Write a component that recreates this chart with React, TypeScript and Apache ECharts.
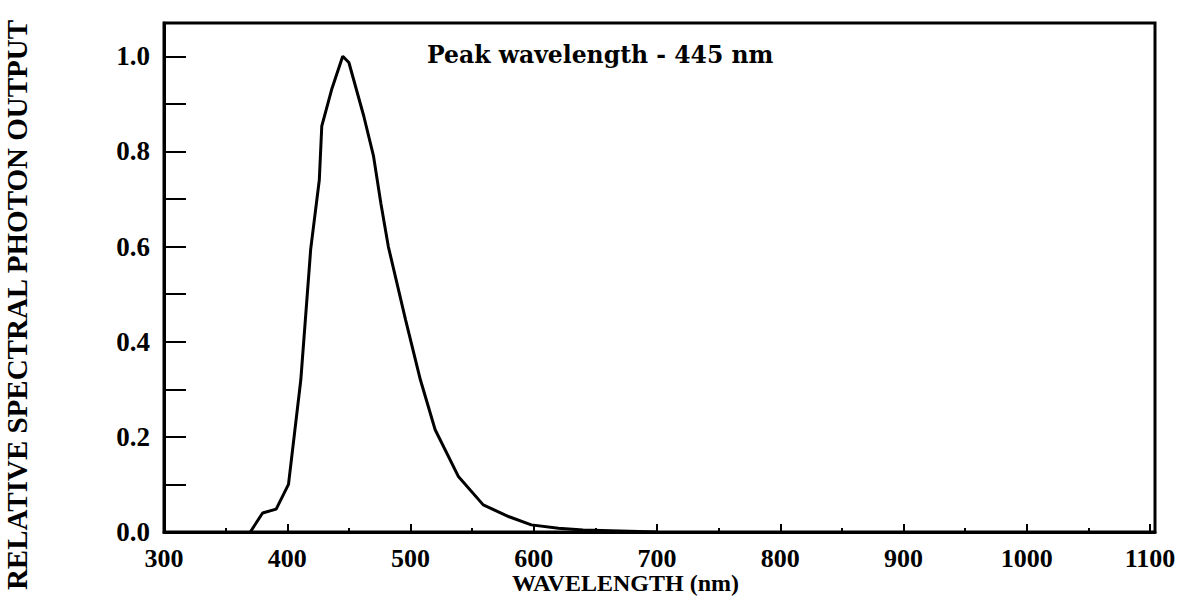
import React, { useEffect, useRef } from "react";
import * as echarts from "echarts";

const wavelengths = [370, 380, 391, 401, 406, 411, 419, 426, 428, 436, 445, 450, 462, 470, 476, 482, 496, 508, 520, 539, 559, 580, 598, 620, 640, 700];
const output = [0, 0.04, 0.048, 0.1, 0.21, 0.32, 0.594, 0.74, 0.853, 0.93, 1.0, 0.987, 0.875, 0.79, 0.69, 0.6, 0.446, 0.32, 0.215, 0.116, 0.057, 0.032, 0.015, 0.008, 0.004, 0];
const xTickLabels = ["300", "400", "500", "600", "700", "800", "900", "1000", "1100"];
const yTickLabels = ["0.0", "0.2", "0.4", "0.6", "0.8", "1.0"];
const annotation = "Peak wavelength - 445 nm";
const xTitle = "WAVELENGTH (nm)";
const yTitle = "RELATIVE SPECTRAL PHOTON OUTPUT";

const SERIF = "'Liberation Serif', 'Times New Roman', serif";

export default function App() {
  const ref = useRef<HTMLDivElement>(null);
  useEffect(() => {
    if (!ref.current) return;
    const chart = echarts.init(ref.current, null, { renderer: "svg" });
    const pts = wavelengths.map((w, i) => [w, output[i]]);
    chart.setOption({
      animation: false,
      backgroundColor: "#fff",
      grid: {
        left: 164,
        top: 23,
        width: 991,
        height: 509,
        show: true,
        borderColor: "#000",
        borderWidth: 3,
        backgroundColor: "transparent",
        containLabel: false,
        outerBoundsMode: "none",
      },
      xAxis: {
        type: "value",
        min: 300,
        max: 1104,
        interval: 100,
        name: xTitle,
        nameLocation: "middle",
        nameGap: 39,
        nameMoveOverlap: false,
        nameTextStyle: {
          fontFamily: SERIF,
          fontWeight: "bold",
          fontSize: 24,
          lineHeight: 24,
          color: "#000",
          verticalAlign: "top",
          padding: [0, 68, 0, 0],
        },
        axisLine: { show: true, lineStyle: { color: "#000", width: 3 } },
        axisTick: { show: true, inside: true, length: 8, lineStyle: { color: "#000", width: 2 } },
        minorTick: { show: true, splitNumber: 2, length: 4, lineStyle: { color: "#000", width: 2 } },
        splitLine: { show: false },
        axisLabel: {
          show: true,
          margin: 13,
          showMaxLabel: false,
          fontFamily: SERIF,
          fontWeight: "bold",
          fontSize: 26,
          lineHeight: 26,
          color: "#000",
          formatter: (v: number) => {
            const s = String(Math.round(v));
            return xTickLabels.includes(s) && Math.abs(v - Math.round(v)) < 1e-6 ? s : "";
          },
        },
      },
      yAxis: {
        type: "value",
        min: 0,
        max: 1.07,
        interval: 0.1,
        name: yTitle,
        nameLocation: "middle",
        nameGap: 133,
        nameMoveOverlap: false,
        nameTextStyle: {
          fontFamily: SERIF,
          fontWeight: "bold",
          fontSize: 29,
          color: "#000",
          padding: [0, 55, 0, 0],
        },
        axisLine: { show: true, lineStyle: { color: "#000", width: 3 } },
        axisTick: { show: true, inside: true, length: 22, lineStyle: { color: "#000", width: 2 } },
        splitLine: { show: false },
        axisLabel: {
          show: true,
          margin: 14,
          showMaxLabel: false,
          fontFamily: SERIF,
          fontWeight: "bold",
          fontSize: 27,
          color: "#000",
          formatter: (v: number) => {
            const s = v.toFixed(1);
            return yTickLabels.includes(s) && Math.abs(v * 5 - Math.round(v * 5)) < 1e-6 ? s : "";
          },
        },
      },
      graphic: [
        {
          type: "text",
          left: 427,
          top: 43,
          style: {
            text: annotation,
            font: "bold 23.5px 'DejaVu Serif', serif",
            fill: "#000",
          },
        },
      ],
      series: [
        {
          type: "line",
          data: pts,
          showSymbol: false,
          smooth: false,
          lineStyle: { color: "#000", width: 3 },
          z: 3,
        },
      ],
    });
    return () => chart.dispose();
  }, []);
  return <div ref={ref} style={{ position: "fixed", left: 0, top: 0, width: 1185, height: 613 }} />;
}
